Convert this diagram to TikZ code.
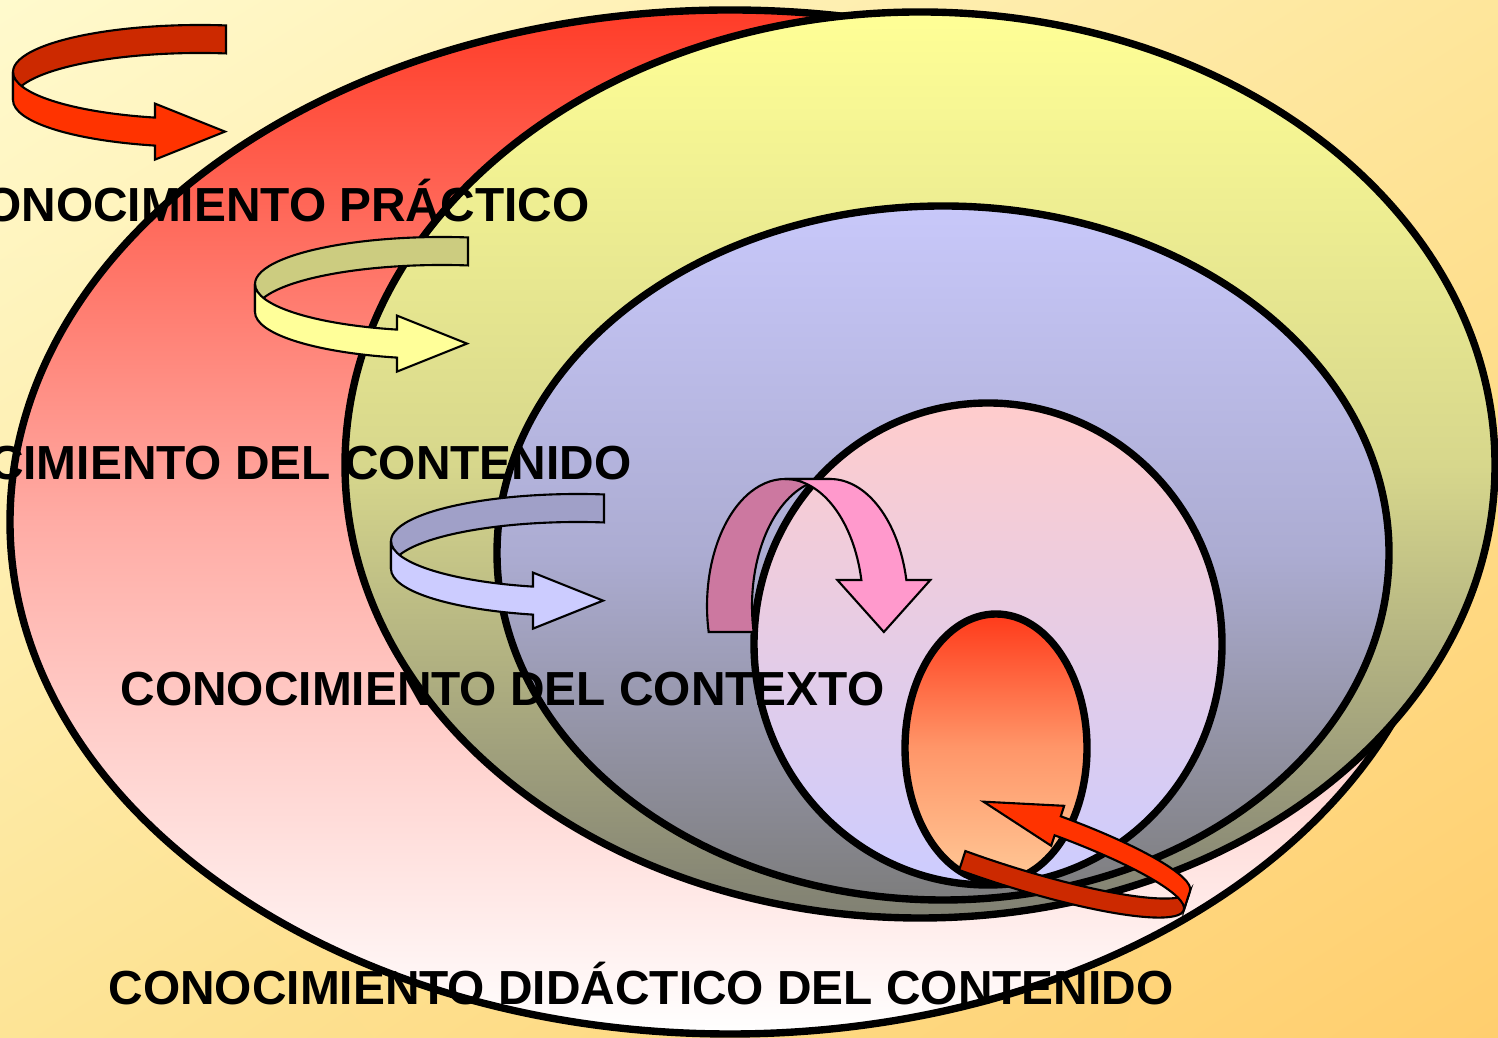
\documentclass[tikz,border=0pt]{standalone}
\usepackage{fontspec}
\setmainfont{Liberation Sans}
\usepackage{tikz}
\usetikzlibrary{shadings}

\definecolor{bgtl}{RGB}{255,250,205}
\definecolor{bgtr}{RGB}{254,230,155}
\definecolor{bgbl}{RGB}{253,228,150}
\definecolor{bgbr}{RGB}{255,206,110}
\definecolor{practtop}{RGB}{255,60,40}
\definecolor{practmid}{RGB}{255,172,165}
\definecolor{conttop}{RGB}{255,255,150}
\definecolor{contmid}{RGB}{215,215,140}
\definecolor{contbot}{RGB}{128,128,115}
\definecolor{ctxtop}{RGB}{200,200,250}
\definecolor{ctxmid}{RGB}{172,172,210}
\definecolor{ctxbot}{RGB}{125,125,125}
\definecolor{didtop}{RGB}{255,204,204}
\definecolor{didbot}{RGB}{204,204,255}
\definecolor{coretop}{RGB}{255,58,26}
\definecolor{coremid}{RGB}{255,150,105}
\definecolor{corebot}{RGB}{255,200,150}
\definecolor{redback}{RGB}{204,41,0}
\definecolor{redfront}{RGB}{255,51,0}
\definecolor{yelback}{RGB}{204,204,128}
\definecolor{yelfront}{RGB}{255,255,153}
\definecolor{bluback}{RGB}{160,160,200}
\definecolor{blufront}{RGB}{204,204,255}
\definecolor{pinkback}{RGB}{204,120,160}
\definecolor{pinkfront}{RGB}{255,153,204}

% curled ribbon arrow: radii, band width, back end, head base, head overhang, head length, colours
\newcommand{\ribbonarrow}[9]{%
  \pgfmathsetmacro\rbTb{acos(#4/#1)}
  \pgfmathsetmacro\rbTf{360-acos(#5/#1)}
  \pgfmathsetmacro\rbYf{#2*sin(\rbTf)}
  \filldraw[arrowline, fill=#8] (-#1,0) arc[start angle=180, end angle=\rbTb, x radius=#1, y radius=#2]
    -- ++(0,-#3) arc[start angle=\rbTb, end angle=180, x radius=#1, y radius=#2] -- cycle;
  \filldraw[arrowline, fill=#9] (-#1,0) arc[start angle=180, end angle=\rbTf, x radius=#1, y radius=#2]
    -- ++(0,#6) -- ({#5+#7},{\rbYf-#3/2}) -- ({#5},{\rbYf-#3-#6}) -- ++(0,#6)
    arc[start angle=\rbTf, end angle=180, x radius=#1, y radius=#2] -- cycle;
}

\begin{document}
\begin{tikzpicture}[x=0.01cm, y=0.01cm,
    ringline/.style={draw=black, line width=2.1pt},
    arrowline/.style={draw=black, line width=0.6pt},
    ringtext/.style={inner sep=0pt, font=\fontsize{13.6}{16}\selectfont\bfseries}]

    \useasboundingbox (0,0) rectangle (1498,1037);
    \clip (0,0) rectangle (1498,1037);

    % Background
    \shade[upper left=bgtl, upper right=bgtr, lower left=bgbl, lower right=bgbr]
      (0,0) rectangle (1498,1037);

    % Nested ellipses, outer to inner
    \draw[ringline, top color=practtop, bottom color=white, middle color=practmid] (730,515) ellipse [x radius=720, y radius=512];
    \draw[ringline, top color=conttop, bottom color=contbot, middle color=contmid] (920,572) ellipse [x radius=575, y radius=453];
    \draw[ringline, top color=ctxtop, bottom color=ctxbot, middle color=ctxmid] (943,484) ellipse [x radius=446, y radius=347];
    \draw[ringline, top color=didtop, bottom color=didbot] (988,393) ellipse [x radius=234, y radius=241];
    \draw[ringline, top color=coretop, bottom color=corebot, middle color=coremid] (996,289) ellipse [x radius=91, y radius=134];

    % Labels
    \node[ringtext, anchor=base east] (practico) at (590,815) {CONOCIMIENTO PRÁCTICO};
    \node[ringtext, anchor=base east] (contenido) at (632,557) {CONOCIMIENTO DEL CONTENIDO};
    \node[ringtext, anchor=base west] (contexto) at (120,331) {CONOCIMIENTO DEL CONTEXTO};
    \node[ringtext, anchor=base west] (didactico) at (108,32) {CONOCIMIENTO DIDÁCTICO DEL CONTENIDO};

    % Curled arrows
    \begin{scope}[shift={(200,965)}]
      \ribbonarrow{187}{47}{28}{26}{-45}{14}{70}{redback}{redfront}
    \end{scope}
    \begin{scope}[shift={(442,753)}]
      \ribbonarrow{187}{47}{28}{26}{-45}{14}{70}{yelback}{yelfront}
    \end{scope}
    \begin{scope}[shift={(578,496)}]
      \ribbonarrow{187}{47}{28}{26}{-45}{14}{70}{bluback}{blufront}
    \end{scope}
    \begin{scope}[cm={0,-1,-1,0,(785,431)}]
      \ribbonarrow{127}{78}{45}{26}{-26}{24}{52}{pinkback}{pinkfront}
    \end{scope}
    \begin{scope}[shift={(1005,185)}, rotate=162]
      \ribbonarrow{188}{32}{20}{38}{-42}{11}{78}{redback}{redfront}
    \end{scope}

\end{tikzpicture}
\end{document}
